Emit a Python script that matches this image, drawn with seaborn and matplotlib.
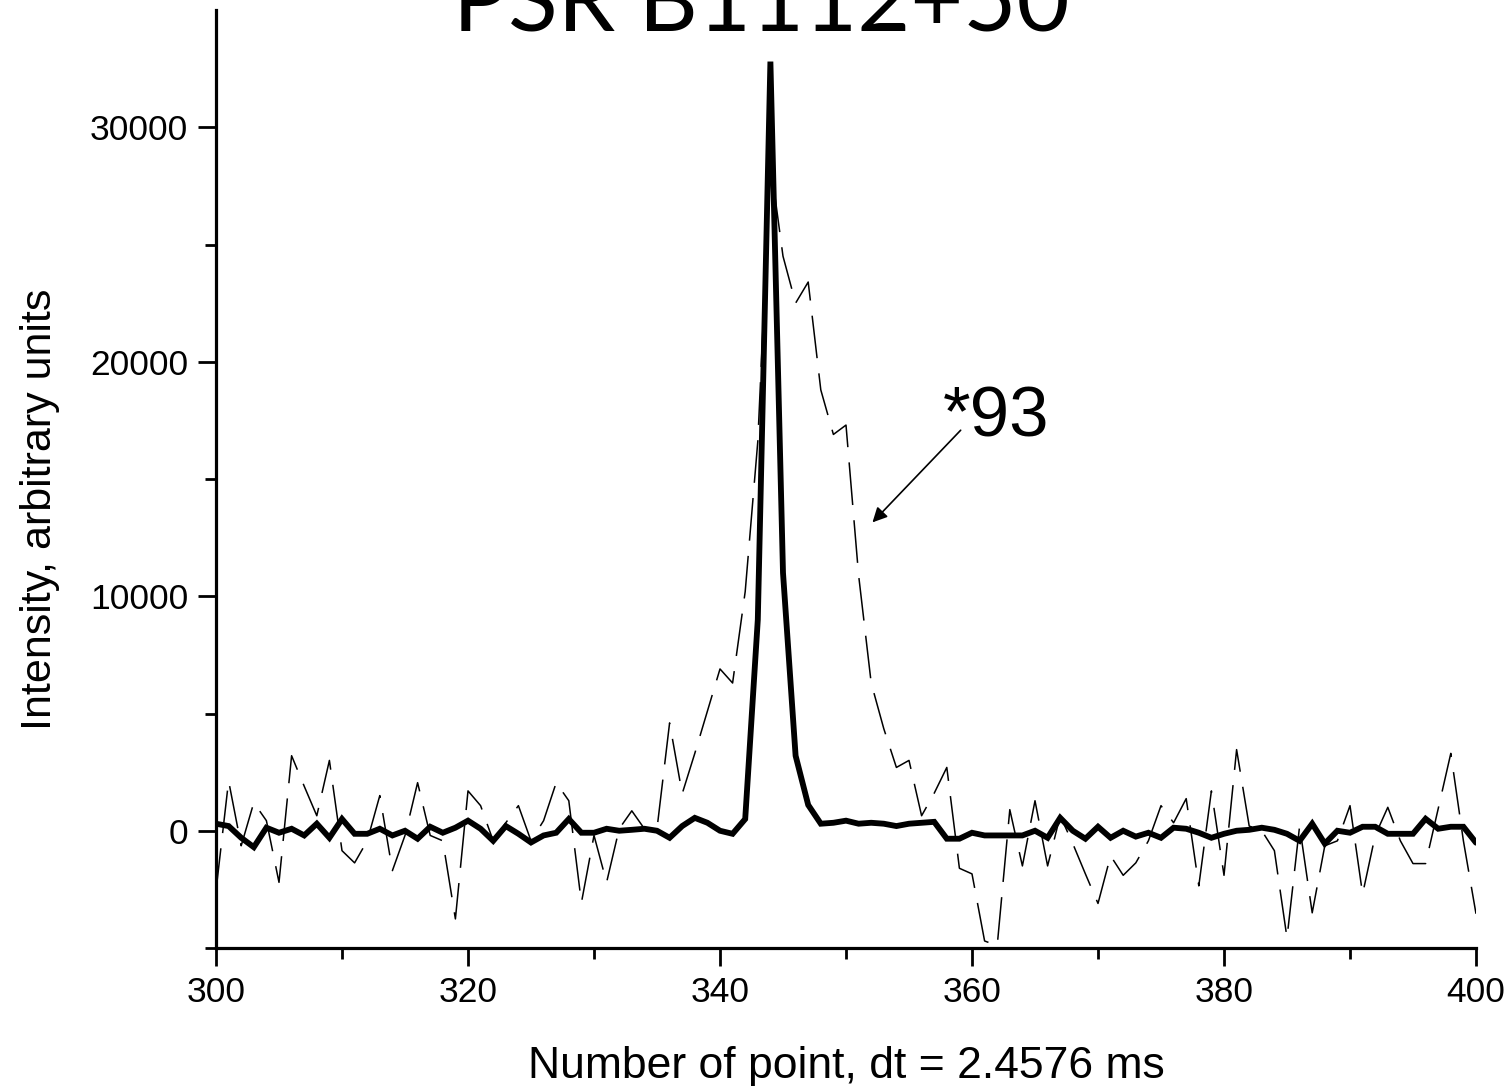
import matplotlib
matplotlib.use('Agg')
import matplotlib.pyplot as plt
import seaborn as sns
import pandas as pd
from matplotlib.ticker import MultipleLocator, FixedLocator

point_number = list(range(300, 401))

# thick profile (solid line)
intensity_main = [
    300, 200, -300, -700, 130, -85, 85, -200, 300, -300,
    500, -130, -130, 85, -200, 0, -340, 170, -85, 130,
    430, 85, -430, 200, -130, -500, -200, -85, 500, -85,
    -85, 85, 0, 40, 85, 0, -300, 200, 550, 340,
    0, -130, 500, 9000, 32800, 11000, 3200, 1100, 300, 340,
    430, 300, 340, 300, 200, 300, 340, 380, -340, -340,
    -85, -200, -200, -200, -200, 0, -300, 550, 0, -340,
    170, -300, 0, -250, -85, -300, 130, 85, -85, -300,
    -130, 0, 40, 130, 40, -130, -430, 300, -550, 0,
    -85, 170, 170, -130, -130, -130, 510, 85, 170, 170,
    -510,
]

# scaled profile (*93, dashed line)
intensity_scaled = [
    -2560, 2130, -640, 1200, 430, -2200, 3200, 1900, 640, 3000,
    -850, -1370, -430, 1500, -1700, -200, 2050, -200, -430, -3760,
    1700, 1070, -430, 340, 1070, -430, 430, 2050, 1280, -3070,
    -200, -2200, 85, 850, 85, 85, 4600, 1580, 3300, 5100,
    6900, 6300, 10200, 16600, 28500, 24500, 22500, 23400, 18800, 16900,
    17300, 10900, 6300, 4350, 2700, 3000, 640, 1600, 2700, -1600,
    -1840, -4700, -4900, 900, -1500, 1280, -1500, 640, -550, -1840,
    -3100, -1070, -1900, -1370, -430, 1070, 340, 1370, -2350, 1700,
    -1900, 3460, 200, 0, -850, -4570, 200, -3500, -640, -430,
    1070, -2700, -200, 1000, -430, -1400, -1400, 940, 3300, -430,
    -3540,
]

df = pd.DataFrame({'point': point_number, 'main': intensity_main, 'scaled': intensity_scaled})

sns.set_style('ticks')
plt.rcParams['font.family'] = ['Liberation Sans', 'DejaVu Sans']
for key in ['text.color', 'axes.labelcolor', 'xtick.color', 'ytick.color', 'axes.edgecolor']:
    plt.rcParams[key] = 'black'

W, H = 1511, 1086
fig = plt.figure(figsize=(W / 100, H / 100), dpi=100)
ax = fig.add_axes([216 / W, 1 - 948 / H, 1260 / W, 938 / H])

sns.lineplot(data=df, x='point', y='scaled', ax=ax, color='black', lw=1.1,
             linestyle=(0, (28, 10)), zorder=2)
sns.lineplot(data=df, x='point', y='main', ax=ax, color='black', lw=4.2,
             solid_joinstyle='miter', zorder=3)

ax.set_xlim(300, 400)
ax.set_ylim(-5000, 35000)
ax.set_xticks(range(300, 401, 20))
ax.xaxis.set_minor_locator(MultipleLocator(10))
ax.set_yticks([0, 10000, 20000, 30000])
ax.yaxis.set_minor_locator(FixedLocator([-5000, 5000, 15000, 25000]))

sns.despine(ax=ax)
for s in ['left', 'bottom']:
    ax.spines[s].set_linewidth(2.3)
ax.tick_params(which='major', direction='out', length=13, width=2.0, labelsize=25.5, pad=7)
ax.tick_params(which='minor', direction='out', length=8, width=2.0)

ax.set_xlabel('Number of point, dt = 2.4576 ms', fontsize=32)
ax.set_ylabel('Intensity, arbitrary units', fontsize=31)
ax.xaxis.set_label_coords(0.5, -0.104)
ax.yaxis.set_label_coords(-0.124, 0.468)

ax.text(357.7, 16800, '*93', fontsize=51, ha='left', va='baseline')
ax.annotate('', xy=(352.1, 13150), xytext=(359.1, 17080),
            arrowprops=dict(arrowstyle='-|>', color='black', lw=1.2,
                            mutation_scale=22, shrinkA=0, shrinkB=0))

fig.text(0.504, 1 - 32 / H, 'PSR B1112+50', fontsize=66, family=['Lato', 'DejaVu Sans'],
         ha='center', va='baseline')

fig.savefig('out.png', dpi=100)
